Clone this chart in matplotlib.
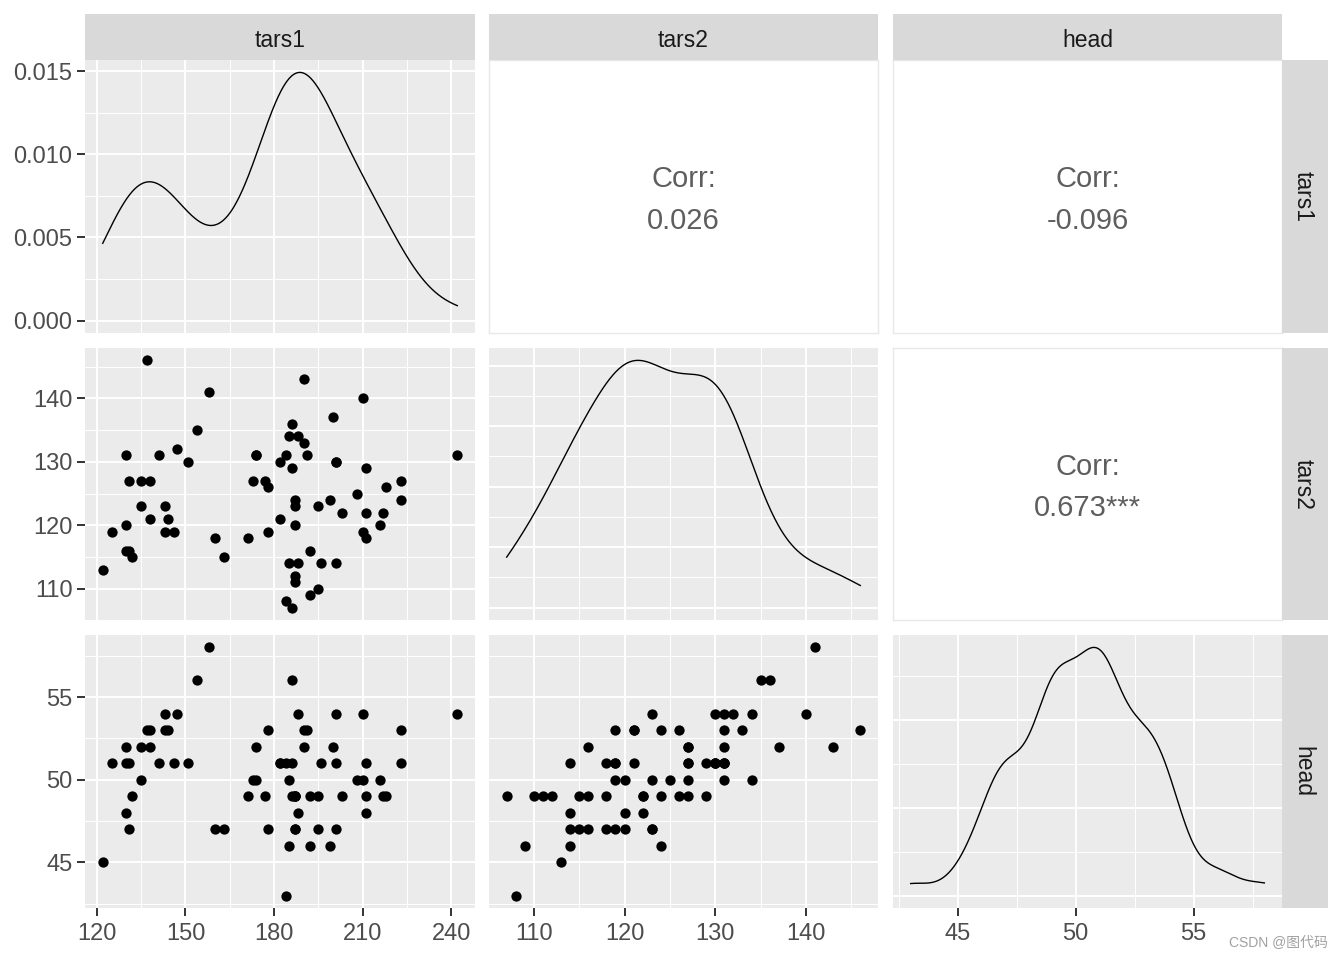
import numpy as np
import matplotlib
matplotlib.use("Agg")
import matplotlib.pyplot as plt
from matplotlib.ticker import FixedLocator, AutoMinorLocator, MaxNLocator, FormatStrFormatter

plt.rcParams['font.family'] = ['Liberation Sans', 'DejaVu Sans']

# data (one entry per bird)
tars1 = [122, 125, 130, 130, 130, 131, 131, 132, 135, 135, 137, 138, 138, 141, 143, 143,
         144, 146, 147, 151, 154, 158, 160, 163, 171, 173, 174, 174, 177, 178, 178, 182,
         182, 184, 184, 185, 185, 186, 186, 186, 187, 187, 187, 187, 187, 188, 188, 190,
         190, 191, 192, 192, 195, 195, 196, 199, 200, 201, 201, 201, 203, 208, 210, 210,
         211, 211, 211, 216, 217, 218, 223, 223, 242]
tars2 = [113, 119, 116, 120, 131, 127, 116, 115, 127, 123, 146, 121, 127, 131, 123, 119,
         121, 119, 132, 130, 135, 141, 118, 115, 118, 127, 131, 131, 127, 126, 119, 130,
         121, 131, 108, 134, 114, 136, 129, 107, 124, 123, 120, 112, 111, 134, 114, 143,
         133, 131, 116, 109, 123, 110, 114, 124, 137, 130, 114, 130, 122, 125, 140, 119,
         129, 122, 118, 120, 122, 126, 127, 124, 131]
head = [45, 51, 52, 48, 51, 51, 47, 49, 52, 50, 53, 53, 52, 51, 54, 53,
        53, 51, 54, 51, 56, 58, 47, 47, 49, 50, 52, 50, 49, 53, 47, 51,
        51, 51, 43, 50, 46, 56, 51, 49, 49, 47, 47, 49, 49, 54, 48, 52,
        53, 53, 49, 46, 47, 49, 51, 46, 52, 54, 47, 51, 49, 50, 54, 50,
        49, 48, 51, 50, 49, 49, 51, 53, 54]

var_names = ["tars1", "tars2", "head"]
var_ticks = [[120, 150, 180, 210, 240], [110, 120, 130, 140], [45, 50, 55]]
# correlation labels for upper panels (row, col)
corr_pairs = [(0, 1), (0, 2), (1, 2)]
corr_values = ["0.026", "-0.096", "0.673***"]

data = [np.array(tars1, float), np.array(tars2, float), np.array(head, float)]

W, H = 1344, 960
fig = plt.figure(figsize=(W / 100, H / 100), dpi=100)

col_x = [(85, 475), (489, 878), (893, 1282)]
row_y = [(60, 333), (348, 620), (635, 908)]

BG = '#EBEBEB'
STRIP = '#D9D9D9'
TICKC = '#4D4D4D'


def px_axes(x0, y0, x1, y1):
    return fig.add_axes([x0 / W, 1 - y1 / H, (x1 - x0) / W, (y1 - y0) / H])


def expand(v):
    lo, hi = v.min(), v.max()
    d = (hi - lo) * 0.05
    return lo - d, hi + d


def kde_nrd0(x, n=512):
    sd = x.std(ddof=1)
    q75, q25 = np.percentile(x, [75, 25])
    bw = 0.9 * min(sd, (q75 - q25) / 1.34) * len(x) ** -0.2
    grid = np.linspace(x.min(), x.max(), n)
    z = (grid[:, None] - x[None, :]) / bw
    dens = np.exp(-0.5 * z ** 2).sum(axis=1) / (len(x) * bw * np.sqrt(2 * np.pi))
    return grid, dens


def style_panel(ax):
    ax.set_facecolor(BG)
    for s in ax.spines.values():
        s.set_visible(False)
    ax.set_axisbelow(True)
    ax.grid(which='major', color='white', lw=1.4)
    ax.grid(which='minor', color='white', lw=0.7)
    ax.tick_params(which='both', length=0, labelbottom=False, labelleft=False)


for i in range(3):
    for j in range(3):
        x0, x1 = col_x[j]
        y0, y1 = row_y[i]
        ax = px_axes(x0, y0, x1, y1)

        if i < j:
            # upper: correlation text
            ax.set_facecolor('white')
            for s in ax.spines.values():
                s.set_color('#E8E8E8')
                s.set_linewidth(1.0)
            ax.set_xticks([])
            ax.set_yticks([])
            k = corr_pairs.index((i, j))
            ax.text(0.5, 0.563, "Corr:", transform=ax.transAxes, ha='center', va='center',
                    fontsize=21, color='#5E5E5E')
            ax.text(0.5, 0.41, corr_values[k], transform=ax.transAxes, ha='center', va='center',
                    fontsize=21, color='#5E5E5E')
            continue

        style_panel(ax)
        ax.set_xlim(*expand(data[j]))
        ax.xaxis.set_major_locator(FixedLocator(var_ticks[j]))
        ax.xaxis.set_minor_locator(AutoMinorLocator(2))

        if i == j:
            gx, gy = kde_nrd0(data[j])
            ax.plot(gx, gy, color='black', lw=1.0)
            top = gy.max()
            ax.set_ylim(-0.05 * top, 1.05 * top)
            ax.yaxis.set_major_locator(MaxNLocator(nbins=5, steps=[1, 2, 5, 10]))
            ax.yaxis.set_minor_locator(AutoMinorLocator(2))
        else:
            ax.scatter(data[j], data[i], s=55, color='black', linewidths=0, zorder=3)
            ax.set_ylim(*expand(data[i]))
            ax.yaxis.set_major_locator(FixedLocator(var_ticks[i]))
            ax.yaxis.set_minor_locator(AutoMinorLocator(2))

        if j == 0:
            ax.tick_params(axis='y', which='major', length=6, width=1.4, color='#333333',
                           labelleft=True, labelsize=17, labelcolor=TICKC, pad=3)
            if i == 0:
                ax.yaxis.set_major_formatter(FormatStrFormatter('%.3f'))
        if i == 2:
            ax.tick_params(axis='x', which='major', length=6, width=1.4, color='#333333',
                           labelbottom=True, labelsize=17, labelcolor=TICKC, pad=5)

# top strips
for j in range(3):
    x0, x1 = col_x[j]
    sa = px_axes(x0, 14, x1, 60)
    sa.set_facecolor(STRIP)
    sa.set_xticks([])
    sa.set_yticks([])
    for s in sa.spines.values():
        s.set_visible(False)
    sa.text(0.5, 0.43, var_names[j], transform=sa.transAxes, ha='center', va='center',
            fontsize=16.5, color='#1A1A1A')

# right strips
for i in range(3):
    y0, y1 = row_y[i]
    sa = px_axes(1282, y0, 1328, y1)
    sa.set_facecolor(STRIP)
    sa.set_xticks([])
    sa.set_yticks([])
    for s in sa.spines.values():
        s.set_visible(False)
    sa.text(0.45, 0.5, var_names[i], transform=sa.transAxes, ha='center', va='center',
            fontsize=16.5, color='#1A1A1A', rotation=-90)

fig.text(1328 / W, 1 - 943 / H, "CSDN @图代码", ha='right', va='center', fontsize=10,
         color='#A0A0A0', family=['Liberation Sans', 'Noto Sans CJK SC'])

fig.savefig("out.png", dpi=100)
